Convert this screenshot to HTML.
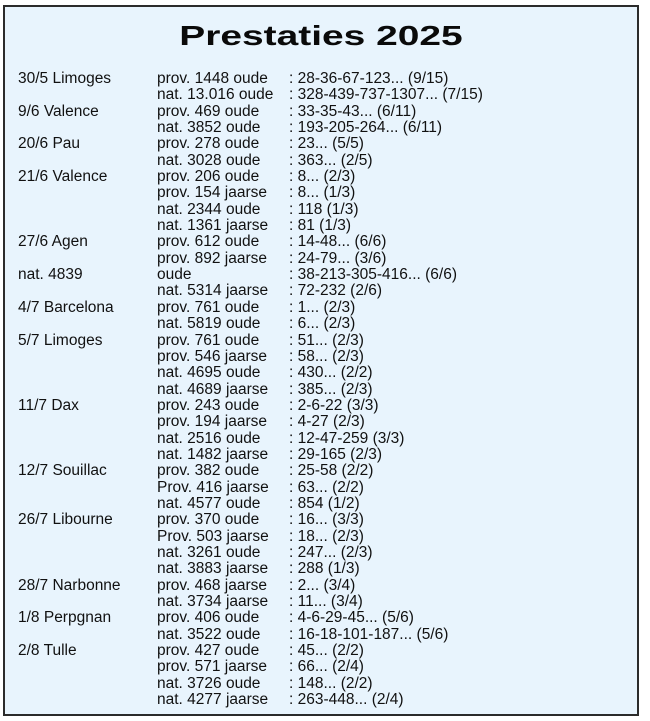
<!DOCTYPE html>
<html>
<head>
<meta charset="utf-8">
<style>
  html, body { margin:0; padding:0; }
  body { width:650px; height:721px; background:#ffffff; position:relative; overflow:hidden;
         font-family:"Liberation Sans", Arial, sans-serif; color:#111; }
  .box { position:absolute; left:3px; top:5px; width:632px; height:707px;
         border:2px solid #2b2b2b; background:#e8f4fd; }
  .title { position:absolute; left:0; top:22.3px; width:641px; text-align:center;
           font-size:28px; line-height:28px; font-weight:bold; color:#0a0a0a; }
  .title span { display:inline-block; transform:scaleX(1.39); transform-origin:center; }
  .rows { position:absolute; left:0; top:71px; width:650px; }
  .r { position:relative; height:16.35px; font-size:15.5px; line-height:16.35px; white-space:nowrap; }
  .r span { position:absolute; top:0; }
  .a { left:18px; }
  .b { left:157px; }
  .c { left:289px; }
</style>
</head>
<body>
<div class="box"></div>
<div class="title"><span>Prestaties 2025</span></div>
<div class="rows">
  <div class="r"><span class="a">30/5 Limoges</span><span class="b">prov. 1448 oude</span><span class="c">: 28-36-67-123... (9/15)</span></div>
  <div class="r"><span class="b">nat. 13.016 oude</span><span class="c">: 328-439-737-1307... (7/15)</span></div>
  <div class="r"><span class="a">9/6 Valence</span><span class="b">prov. 469 oude</span><span class="c">: 33-35-43... (6/11)</span></div>
  <div class="r"><span class="b">nat. 3852 oude</span><span class="c">: 193-205-264... (6/11)</span></div>
  <div class="r"><span class="a">20/6 Pau</span><span class="b">prov. 278 oude</span><span class="c">: 23... (5/5)</span></div>
  <div class="r"><span class="b">nat. 3028 oude</span><span class="c">: 363... (2/5)</span></div>
  <div class="r"><span class="a">21/6 Valence</span><span class="b">prov. 206 oude</span><span class="c">: 8... (2/3)</span></div>
  <div class="r"><span class="b">prov. 154 jaarse</span><span class="c">: 8... (1/3)</span></div>
  <div class="r"><span class="b">nat. 2344 oude</span><span class="c">: 118 (1/3)</span></div>
  <div class="r"><span class="b">nat. 1361 jaarse</span><span class="c">: 81 (1/3)</span></div>
  <div class="r"><span class="a">27/6 Agen</span><span class="b">prov. 612 oude</span><span class="c">: 14-48... (6/6)</span></div>
  <div class="r"><span class="b">prov. 892 jaarse</span><span class="c">: 24-79... (3/6)</span></div>
  <div class="r"><span class="a">nat. 4839</span><span class="b">oude</span><span class="c">: 38-213-305-416... (6/6)</span></div>
  <div class="r"><span class="b">nat. 5314 jaarse</span><span class="c">: 72-232 (2/6)</span></div>
  <div class="r"><span class="a">4/7 Barcelona</span><span class="b">prov. 761 oude</span><span class="c">: 1... (2/3)</span></div>
  <div class="r"><span class="b">nat. 5819 oude</span><span class="c">: 6... (2/3)</span></div>
  <div class="r"><span class="a">5/7 Limoges</span><span class="b">prov. 761 oude</span><span class="c">: 51... (2/3)</span></div>
  <div class="r"><span class="b">prov. 546 jaarse</span><span class="c">: 58... (2/3)</span></div>
  <div class="r"><span class="b">nat. 4695 oude</span><span class="c">: 430... (2/2)</span></div>
  <div class="r"><span class="b">nat. 4689 jaarse</span><span class="c">: 385... (2/3)</span></div>
  <div class="r"><span class="a">11/7 Dax</span><span class="b">prov. 243 oude</span><span class="c">: 2-6-22 (3/3)</span></div>
  <div class="r"><span class="b">prov. 194 jaarse</span><span class="c">: 4-27 (2/3)</span></div>
  <div class="r"><span class="b">nat. 2516 oude</span><span class="c">: 12-47-259 (3/3)</span></div>
  <div class="r"><span class="b">nat. 1482 jaarse</span><span class="c">: 29-165 (2/3)</span></div>
  <div class="r"><span class="a">12/7 Souillac</span><span class="b">prov. 382 oude</span><span class="c">: 25-58 (2/2)</span></div>
  <div class="r"><span class="b">Prov. 416 jaarse</span><span class="c">: 63... (2/2)</span></div>
  <div class="r"><span class="b">nat. 4577 oude</span><span class="c">: 854 (1/2)</span></div>
  <div class="r"><span class="a">26/7 Libourne</span><span class="b">prov. 370 oude</span><span class="c">: 16... (3/3)</span></div>
  <div class="r"><span class="b">Prov. 503 jaarse</span><span class="c">: 18... (2/3)</span></div>
  <div class="r"><span class="b">nat. 3261 oude</span><span class="c">: 247... (2/3)</span></div>
  <div class="r"><span class="b">nat. 3883 jaarse</span><span class="c">: 288 (1/3)</span></div>
  <div class="r"><span class="a">28/7 Narbonne</span><span class="b">prov. 468 jaarse</span><span class="c">: 2... (3/4)</span></div>
  <div class="r"><span class="b">nat. 3734 jaarse</span><span class="c">: 11... (3/4)</span></div>
  <div class="r"><span class="a">1/8 Perpgnan</span><span class="b">prov. 406 oude</span><span class="c">: 4-6-29-45... (5/6)</span></div>
  <div class="r"><span class="b">nat. 3522 oude</span><span class="c">: 16-18-101-187... (5/6)</span></div>
  <div class="r"><span class="a">2/8 Tulle</span><span class="b">prov. 427 oude</span><span class="c">: 45... (2/2)</span></div>
  <div class="r"><span class="b">prov. 571 jaarse</span><span class="c">: 66... (2/4)</span></div>
  <div class="r"><span class="b">nat. 3726 oude</span><span class="c">: 148... (2/2)</span></div>
  <div class="r"><span class="b">nat. 4277 jaarse</span><span class="c">: 263-448... (2/4)</span></div>
</div>
</body>
</html>
